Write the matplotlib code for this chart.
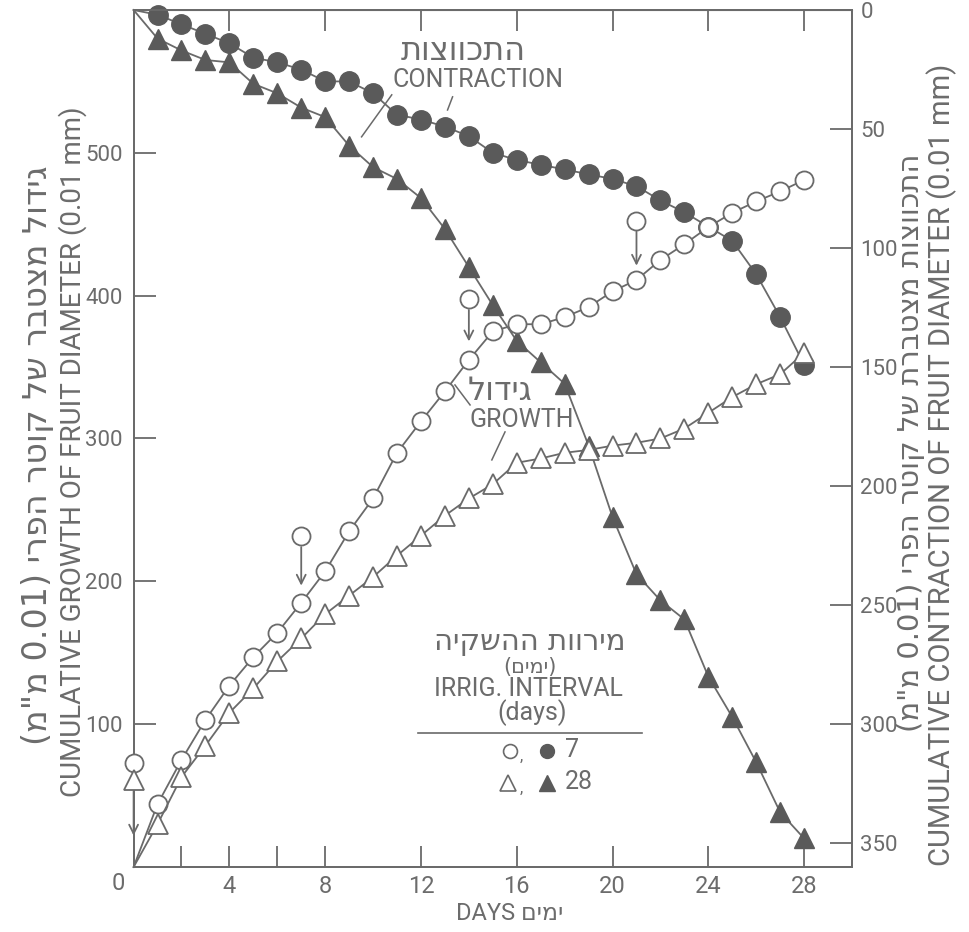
import re
import matplotlib
matplotlib.use('Agg')
import matplotlib.pyplot as plt
from matplotlib.lines import Line2D

# ---- data ----
days = list(range(29))
growth_7 = [0, 44, 75, 103, 127, 147, 164, 185, 207, 235, 258, 290, 312, 333, 355, 375,
            380, 380, 385, 392, 403, 411, 425, 436, 448, 458, 466, 473, 481]
growth_28 = [0, 30, 63, 85, 108, 125, 144, 160, 177, 190, 203, 218, 232, 246, 258, 268,
             283, 286, 290, 292, 295, 297, 300, 307, 318, 329, 338, 345, 360]
contr_7 = [0, 2, 6, 10, 14, 20, 22, 25, 30, 30, 35, 44, 46, 49, 53, 60,
           63, 65, 67, 69, 71, 74, 80, 85, 91, 97, 111, 129, 149]
contr_28 = [0, 12, 17, 21, 22, 31, 35, 41, 45, 57, 66, 71, 79, 92, 108, 124,
            139, 148, 157, 183, 213, 237, 248, 256, 280, 297, 316, 337, 348]

irrig_days_7 = [0, 7, 14, 21]
irrig_mark_7 = [73, 232, 398, 452]
irrig_arrow_7 = [(53, 22), (224, 197), (390, 368), (445, 421)]
irrig_mark_28 = 61

xticks = [2, 4, 6, 8, 12, 16, 20, 24, 28]
xticklabels = ['', '4', '', '8', '12', '16', '20', '24', '28']
left_ticks = [100, 200, 300, 400, 500]
right_ticks = [0, 50, 100, 150, 200, 250, 300, 350]


def rtl(s):
    # hebrew -> visual order for matplotlib (no bidi support)
    parts = re.findall(r'[0-9A-Za-z.]+|[^0-9A-Za-z.]', s)
    out = []
    for p in reversed(parts):
        out.append({'(': ')', ')': '('}.get(p, p))
    return ''.join(out)


FONT = ['Roboto', 'DejaVu Sans']
HEB = ['DejaVu Sans']
plt.rcParams['font.family'] = FONT
LINE = '#6a6a6a'
FILL = '#5a5a5a'
TXT = '#6c6c6c'

W, H = 970, 932
fig = plt.figure(figsize=(W / 100, H / 100), dpi=100)
x0, x1, ytop, ybot = 133.6, 852, 10, 867
ax = fig.add_axes([x0 / W, 1 - ybot / H, (x1 - x0) / W, (ybot - ytop) / H])
ax2 = ax.twinx()
# contraction on the primary (right scale), growth on top (left scale)
ax.yaxis.tick_right()
ax2.yaxis.tick_left()

ax.set_xlim(0, 30)
ax.set_ylim(360, 0)
ax2.set_ylim(0, 600)

for a in (ax, ax2):
    for sp in a.spines.values():
        sp.set_color(LINE)
        sp.set_linewidth(1.3)

ax.plot(days, contr_7, color=LINE, lw=1.3, marker='o', ms=14, mfc=FILL, mec=FILL,
        markevery=slice(1, None), clip_on=False, zorder=3)
ax.plot(days, contr_28, color=LINE, lw=1.3, marker='^', ms=15, mfc=FILL, mec=FILL,
        markevery=slice(1, None), clip_on=False, zorder=3)
ax2.plot(days, growth_7, color=LINE, lw=1.3, marker='o', ms=13, mfc='white', mec=LINE,
         mew=1.3, markevery=slice(1, None), clip_on=False, zorder=3)
ax2.plot(days, growth_28, color=LINE, lw=1.3, marker='^', ms=14, mfc='white', mec=LINE,
         mew=1.3, markevery=slice(1, None), clip_on=False, zorder=3)

# irrigation marks
for d, m, (a0, a1) in zip(irrig_days_7, irrig_mark_7, irrig_arrow_7):
    ax2.plot([d], [m], marker='o', ms=13, mfc='white', mec=LINE, mew=1.3,
             clip_on=False, zorder=4)
    ax2.annotate('', xy=(d, a1), xytext=(d, a0),
                 arrowprops=dict(arrowstyle='->', color=LINE, lw=1.3,
                                 mutation_scale=16, shrinkA=0, shrinkB=0),
                 annotation_clip=False)
ax2.plot([0], [irrig_mark_28], marker='^', ms=14, mfc='white', mec=LINE, mew=1.3,
         clip_on=False, zorder=4)

# ticks
ax.set_xticks(xticks)
ax.set_xticklabels(xticklabels)
ax.tick_params(axis='x', direction='in', length=15, width=1.3, color=LINE,
               labelcolor=TXT, labelsize=17, pad=6)
ax.set_yticks(right_ticks)
ax.set_yticklabels([str(v) for v in right_ticks])
ax.tick_params(axis='y', direction='in', length=16, width=1.3, color=LINE,
               labelcolor=TXT, labelsize=16, pad=6)
ax2.set_yticks(left_ticks)
ax2.set_yticklabels([str(v) for v in left_ticks])
ax2.tick_params(axis='y', direction='in', length=16, width=1.3, color=LINE,
                labelcolor=TXT, labelsize=16, pad=8)
top = ax.secondary_xaxis('top')
top.set_xticks([4, 8, 12, 16, 20, 24, 28])
top.tick_params(direction='in', length=15, width=1.3, color=LINE, labelsize=0,
                labeltop=False)
top.spines['top'].set_color(LINE)

# in-plot labels
ax2.text(13.75, 571, rtl('התכווצות'), color=TXT, fontsize=23, ha='center', va='center',
         family=HEB)
ax2.text(14.4, 551, 'CONTRACTION', color=TXT, fontsize=18, ha='center', va='center')
ax2.plot([10.78, 9.52], [540.6, 511.2], color=LINE, lw=1.1)
ax2.plot([13.32, 13.11], [539.2, 530.0], color=LINE, lw=1.1)

ax2.text(15.3, 333, rtl('גידול'), color=TXT, fontsize=23, ha='center', va='center',
         family=HEB)
ax2.text(16.2, 313, 'GROWTH', color=TXT, fontsize=18, ha='center', va='center')
ax2.plot([14.05, 13.42], [323.5, 337.5], color=LINE, lw=1.1)
ax2.plot([15.51, 14.96], [304.6, 285.0], color=LINE, lw=1.1)


# legend block
def fx(px):
    return px / W


def fy(py):
    return 1 - py / H


fig.text(fx(118), fy(884), '0', color=TXT, fontsize=17, ha='center', va='center')

fig.text(fx(530), fy(642), rtl('מירוות ההשקיה'), color=TXT, fontsize=21, ha='center',
         va='center', family=HEB)
fig.text(fx(530), fy(667), rtl('(ימים)'), color=TXT, fontsize=15, ha='center',
         va='center', family=HEB)
fig.text(fx(528), fy(689), 'IRRIG. INTERVAL', color=TXT, fontsize=18, ha='center',
         va='center')
fig.text(fx(532), fy(713), '(days)', color=TXT, fontsize=18, ha='center', va='center')
fig.add_artist(Line2D([fx(418), fx(642)], [fy(733), fy(733)], color=LINE, lw=1.2,
                      transform=fig.transFigure))
fig.add_artist(Line2D([fx(510)], [fy(751)], marker='o', ms=10, mfc='white', mec=LINE,
                      mew=1.2, transform=fig.transFigure))
fig.add_artist(Line2D([fx(547)], [fy(751)], marker='o', ms=10, mfc=FILL, mec=FILL,
                      transform=fig.transFigure))
fig.text(fx(521), fy(756), ',', color=TXT, fontsize=12, ha='center', va='center')
fig.text(fx(565), fy(750), '7', color=TXT, fontsize=18, ha='left', va='center')
fig.add_artist(Line2D([fx(508)], [fy(783)], marker='^', ms=11, mfc='white', mec=LINE,
                      mew=1.2, transform=fig.transFigure))
fig.add_artist(Line2D([fx(547)], [fy(783)], marker='^', ms=11, mfc=FILL, mec=FILL,
                      transform=fig.transFigure))
fig.text(fx(521), fy(788), ',', color=TXT, fontsize=12, ha='center', va='center')
fig.text(fx(565), fy(782), '28', color=TXT, fontsize=18, ha='left', va='center')

# axis titles
fig.text(fx(38), fy(455), rtl('גידול מצטבר של קוטר הפרי (0.01 מ"מ)'), color=TXT,
         fontsize=24, rotation=90, ha='center', va='center', family=HEB)
fig.text(fx(73), fy(452), 'CUMULATIVE GROWTH OF FRUIT DIAMETER (0.01 mm)', color=TXT,
         fontsize=20, rotation=90, ha='center', va='center')
fig.text(fx(911), fy(443), rtl('התכווצות מצטברת של קוטר הפרי (0.01 מ"מ)'), color=TXT,
         fontsize=21, rotation=90, ha='center', va='center', family=HEB)
fig.text(fx(942), fy(465), 'CUMULATIVE CONTRACTION OF FRUIT DIAMETER (0.01 mm)',
         color=TXT, fontsize=21, rotation=90, ha='center', va='center')
fig.text(fx(510), fy(913), 'DAYS ' + rtl('ימים'), color=TXT, fontsize=17, ha='center',
         va='center')

fig.savefig('out.png', dpi=100)
